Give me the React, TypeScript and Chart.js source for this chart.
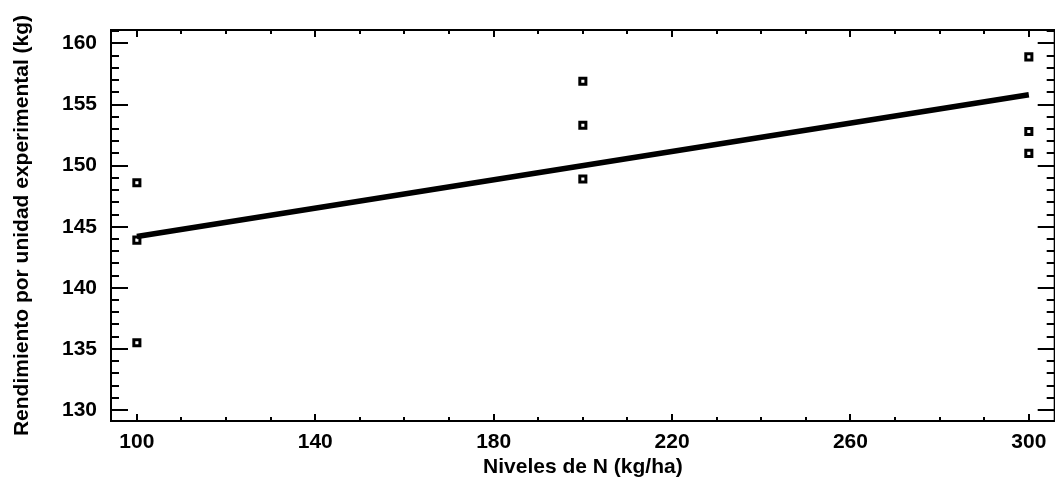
import React, { useEffect, useRef } from "react";
import { Chart, registerables } from "chart.js";

Chart.register(...registerables);

const levels = [100, 100, 100, 200, 200, 200, 300, 300, 300];
const yields = [148.6, 143.9, 135.5, 156.9, 153.3, 148.9, 158.9, 152.8, 151.0];
const fitX = [100, 300];
const fitY = [144.2, 155.8];
const xTicks = [100, 140, 180, 220, 260, 300];
const yTicks = [130, 135, 140, 145, 150, 155, 160];
const xMinorStep = 10;
const yMinorStep = 1;

const FONT = "'Liberation Sans', Arial, sans-serif";

const framePlugin = {
  id: "frameTicks",
  afterDatasetsDraw(chart: any) {
    const { ctx, chartArea, scales } = chart;
    const { left, right, top, bottom } = chartArea;
    const xs = scales.x;
    const ys = scales.y;
    ctx.save();
    ctx.strokeStyle = "#000";
    ctx.lineWidth = 2;
    ctx.beginPath();
    ctx.rect(left, top, right - left, bottom - top);
    ctx.stroke();
    ctx.beginPath();
    for (let v = xTicks[0]; v <= xTicks[xTicks.length - 1] + 0.001; v += xMinorStep) {
      const px = Math.round(xs.getPixelForValue(v));
      const major = xTicks.includes(v);
      const len = major ? 7 : 4;
      ctx.moveTo(px, bottom);
      ctx.lineTo(px, bottom - len);
      ctx.moveTo(px, top);
      ctx.lineTo(px, top + len);
    }
    for (let v = 130; v <= 161; v += yMinorStep) {
      const py = Math.round(ys.getPixelForValue(v));
      if (py < top || py > bottom) continue;
      const major = yTicks.includes(v);
      const len = major ? 17 : 8;
      ctx.moveTo(left, py);
      ctx.lineTo(left + len, py);
      ctx.moveTo(right, py);
      ctx.lineTo(right - len, py);
    }
    ctx.stroke();
    ctx.restore();
  },
};

export default function App() {
  const ref = useRef<HTMLCanvasElement | null>(null);

  useEffect(() => {
    document.body.style.margin = "0";
    const canvas = ref.current;
    if (!canvas) return;
    const chart = new Chart(canvas, {
      data: {
        datasets: [
          {
            type: "line",
            data: fitX.map((x, i) => ({ x, y: fitY[i] })),
            borderColor: "#000",
            borderWidth: 5.5,
            pointRadius: 0,
            fill: false,
          },
          {
            type: "scatter",
            data: levels.map((x, i) => ({ x, y: yields[i] })),
            pointStyle: "rect",
            pointRadius: 4.3,
            borderColor: "#000",
            borderWidth: 3,
            backgroundColor: "#fff",
          },
        ],
      } as any,
      options: {
        animation: false,
        responsive: false,
        maintainAspectRatio: false,
        devicePixelRatio: 1,
        layout: { padding: { top: 30, right: 5, left: 0, bottom: 0 } },
        plugins: { legend: { display: false }, tooltip: { enabled: false } },
        scales: {
          x: {
            type: "linear",
            min: 94.2,
            max: 305.8,
            grid: { display: false, drawTicks: false },
            border: { display: false },
            ticks: {
              color: "#000",
              padding: 9,
              font: { family: FONT, size: 21, weight: "bold" },
            },
            afterBuildTicks: (s: any) => {
              s.ticks = xTicks.map((v) => ({ value: v }));
            },
            afterFit: (s: any) => {
              s.height = 61;
            },
            title: {
              display: true,
              text: "Niveles de N (kg/ha)",
              color: "#000",
              font: { family: FONT, size: 21, weight: "bold" },
              padding: { top: 0, bottom: 2.4 },
            },
          },
          y: {
            type: "linear",
            min: 129.1,
            max: 161.1,
            grid: { display: false, drawTicks: false },
            border: { display: false },
            ticks: {
              color: "#000",
              padding: 14,
              font: { family: FONT, size: 21, weight: "bold" },
            },
            afterBuildTicks: (s: any) => {
              s.ticks = yTicks.map((v) => ({ value: v }));
            },
            afterFit: (s: any) => {
              s.width = 111;
            },
            title: {
              display: true,
              text: "Rendimiento por unidad experimental (kg)",
              color: "#000",
              font: { family: FONT, size: 21, weight: "bold" },
              padding: { top: 10, bottom: 0 },
            },
          },
        },
      } as any,
      plugins: [framePlugin],
    });
    return () => chart.destroy();
  }, []);

  return (
    <div
      style={{
        position: "fixed",
        left: 0,
        top: 0,
        width: 1055,
        height: 482,
        overflow: "hidden",
        background: "#fff",
      }}
    >
      <canvas ref={ref} width={1062} height={482} style={{ display: "block" }} />
    </div>
  );
}
